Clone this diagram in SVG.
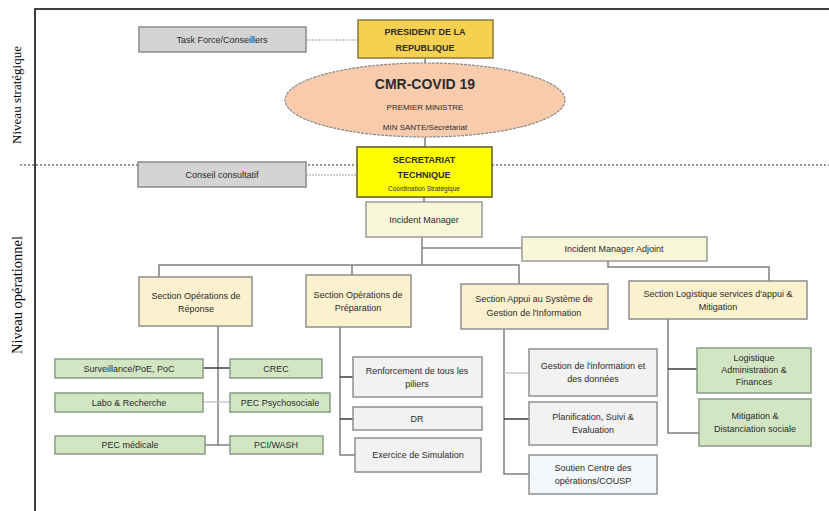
<svg xmlns="http://www.w3.org/2000/svg" width="829" height="511" viewBox="0 0 829 511">
<style>
text{font-family:"Liberation Sans",Arial,sans-serif;fill:#2b2b2b;text-anchor:middle}
.s{font-size:9px}
.xs{font-size:8px}
.b{font-weight:bold}
.lbl{font-family:"Liberation Serif","Times New Roman",serif;font-size:13px;fill:#000}
.grey{fill:#d4d4d4;stroke:#8a8a8a;stroke-width:1.5}
.sec{fill:#fbf1cf;stroke:#8f8f8f;stroke-width:1.5}
.im{fill:#f8f6d9;stroke:#9a9a9a;stroke-width:1.5}
.grn{fill:#d3e6c4;stroke:#8a9a86;stroke-width:1.5}
.lg{fill:#f2f2f2;stroke:#8f8f8f;stroke-width:1.5}
.c{fill:none;stroke:#7f7f7f;stroke-width:1.5}
.cd{fill:none;stroke:#3a3a3a;stroke-width:1.5}
.cl{fill:none;stroke:#c8c8c8;stroke-width:1.5}
.dash{fill:none;stroke:#9a9a9a;stroke-width:1;stroke-dasharray:2,1}
</style>
<rect width="829" height="511" fill="#fff"/>
<!-- frame -->
<path d="M35,511 V9 H829" fill="none" stroke="#000" stroke-width="1.5"/>
<line x1="20" y1="165" x2="829" y2="165" stroke="#333" stroke-width="1" stroke-dasharray="2,2"/>
<text class="lbl" transform="translate(21,95) rotate(-90)">Niveau stratégique</text>
<text class="lbl" transform="translate(22,295) rotate(-90)" style="font-size:14.5px">Niveau opérationnel</text>

<g id="connectors">
<line class="dash" x1="306" y1="40" x2="358" y2="40"/>
<line class="dash" x1="306" y1="175" x2="357" y2="175"/>
<line class="c" x1="425" y1="58" x2="425" y2="63"/>
<line class="c" x1="425" y1="137" x2="425" y2="147"/>
<line class="c" x1="424" y1="197" x2="424" y2="202"/>
<path class="c" d="M422,237 V265"/>
<path class="c" d="M422,248 H522"/>
<path class="c" d="M159,277 V265 H519 V284"/>
<path class="c" d="M352,265 V275"/>
<path class="c" d="M608,261 V267 H769 V281"/>
<!-- section 1 -->
<path class="c" d="M218,326 V446"/>
<path class="cd" d="M203,368 H230"/>
<path class="cl" d="M203,402 H230"/>
<path class="c" d="M205,445 H230"/>
<!-- section 2 -->
<path class="c" d="M340,327 V455 H355"/>
<path class="cd" d="M340,377 H353"/>
<path class="cd" d="M340,419 H353"/>
<!-- section 3 -->
<path class="c" d="M504,329 V474 H529"/>
<path class="cl" d="M504,373 H529"/>
<path class="cd" d="M504,419 H529"/>
<!-- section 4 -->
<path class="c" d="M668,319 V433 H699"/>
<path class="cd" d="M668,369 H697"/>
</g>

<g id="task-force"><rect class="grey" x="139" y="27" width="167" height="25"/><text class="s" x="222" y="43">Task Force/Conseillers</text></g>
<g id="president"><rect x="358" y="20" width="135" height="38" fill="#f6d04f" stroke="#8a7a40" stroke-width="1.5"/><text class="s b" x="425" y="35">PRESIDENT DE LA</text><text class="s b" x="425" y="51">REPUBLIQUE</text></g>
<g id="cmr-covid"><ellipse cx="425" cy="100" rx="140" ry="37" fill="#f8cbad" stroke="#8a8a8a" stroke-width="1.2" stroke-dasharray="3,1"/><text class="b" x="425" y="89" style="font-size:14px">CMR-COVID 19</text><text class="xs" x="425" y="110">PREMIER MINISTRE</text><text class="xs" x="425" y="130">MIN SANTE/Secrétariat</text></g>
<g id="conseil"><rect class="grey" x="138" y="162" width="168" height="25"/><text class="s" x="222" y="178">Conseil consultatif</text></g>
<g id="secretariat"><rect x="357" y="147" width="135" height="50" fill="#ffff00" stroke="#5a5a20" stroke-width="1.5"/><text class="s b" x="424" y="163">SECRETARIAT</text><text class="s b" x="424" y="178">TECHNIQUE</text><text x="424" y="191" style="font-size:6.5px">Coordination Stratégique</text></g>
<g id="incident-manager"><rect class="im" x="366" y="202" width="116" height="35"/><text class="s" x="424" y="223">Incident Manager</text></g>
<g id="incident-manager-adjoint"><rect class="im" x="522" y="237" width="185" height="24"/><text class="s" x="614" y="252">Incident Manager Adjoint</text></g>

<g id="section-reponse"><rect class="sec" x="139" y="277" width="113" height="49"/><text class="s" x="196" y="299">Section Opérations de</text><text class="s" x="196" y="312">Réponse</text></g>
<g id="section-preparation"><rect class="sec" x="306" y="275" width="105" height="52"/><text class="s" x="358" y="298">Section Opérations de</text><text class="s" x="358" y="311">Préparation</text></g>
<g id="section-appui"><rect class="sec" x="461" y="284" width="147" height="45"/><text class="s" x="534" y="302">Section Appui au Système de</text><text class="s" x="534" y="316">Gestion de l'Information</text></g>
<g id="section-logistique"><rect class="sec" x="629" y="281" width="178" height="38"/><text class="s" x="718" y="297">Section Logistique services d'appui &amp;</text><text class="s" x="718" y="310">Mitigation</text></g>

<g id="surveillance"><rect class="grn" x="55" y="359" width="148" height="19"/><text class="s" x="129" y="371.5">Surveillance/PoE, PoC</text></g>
<g id="labo"><rect class="grn" x="55" y="393" width="148" height="19"/><text class="s" x="129" y="405.5">Labo &amp; Recherche</text></g>
<g id="pec-medicale"><rect class="grn" x="55" y="436" width="150" height="18"/><text class="s" x="130" y="448">PEC médicale</text></g>
<g id="crec"><rect class="grn" x="230" y="359" width="92" height="19"/><text class="s" x="276" y="371.5">CREC</text></g>
<g id="pec-psycho"><rect class="grn" x="230" y="393" width="100" height="19"/><text class="s" x="280" y="405.5">PEC Psychosociale</text></g>
<g id="pci-wash"><rect class="grn" x="230" y="436" width="93" height="18"/><text class="s" x="276" y="448">PCI/WASH</text></g>

<g id="renforcement"><rect class="lg" x="353" y="357" width="129" height="40"/><text class="s" x="417" y="374">Renforcement de tous les</text><text class="s" x="417" y="387">piliers</text></g>
<g id="dr"><rect class="lg" x="353" y="407" width="129" height="23"/><text class="s" x="417" y="421.5">DR</text></g>
<g id="exercice"><rect class="lg" x="355" y="438" width="126" height="34"/><text class="s" x="418" y="458">Exercice de Simulation</text></g>

<g id="gestion-info"><rect class="lg" x="529" y="349" width="128" height="47"/><text class="s" x="593" y="369">Gestion de l'information et</text><text class="s" x="593" y="382">des données</text></g>
<g id="planification"><rect class="lg" x="529" y="402" width="128" height="43"/><text class="s" x="593" y="420">Planification, Suivi &amp;</text><text class="s" x="593" y="433">Evaluation</text></g>
<g id="soutien"><rect class="lg" x="529" y="455" width="128" height="39" style="fill:#f4f7fa"/><text class="s" x="593" y="471">Soutien Centre des</text><text class="s" x="593" y="484">opérations/COUSP</text></g>

<g id="logistique-admin"><rect class="grn" x="697" y="348" width="114" height="45"/><text class="s" x="754" y="361">Logistique</text><text class="s" x="754" y="373">Administration &amp;</text><text class="s" x="754" y="385">Finances</text></g>
<g id="mitigation"><rect class="grn" x="699" y="399" width="112" height="47"/><text class="s" x="755" y="419">Mitigation &amp;</text><text class="s" x="755" y="432">Distanciation sociale</text></g>
</svg>
